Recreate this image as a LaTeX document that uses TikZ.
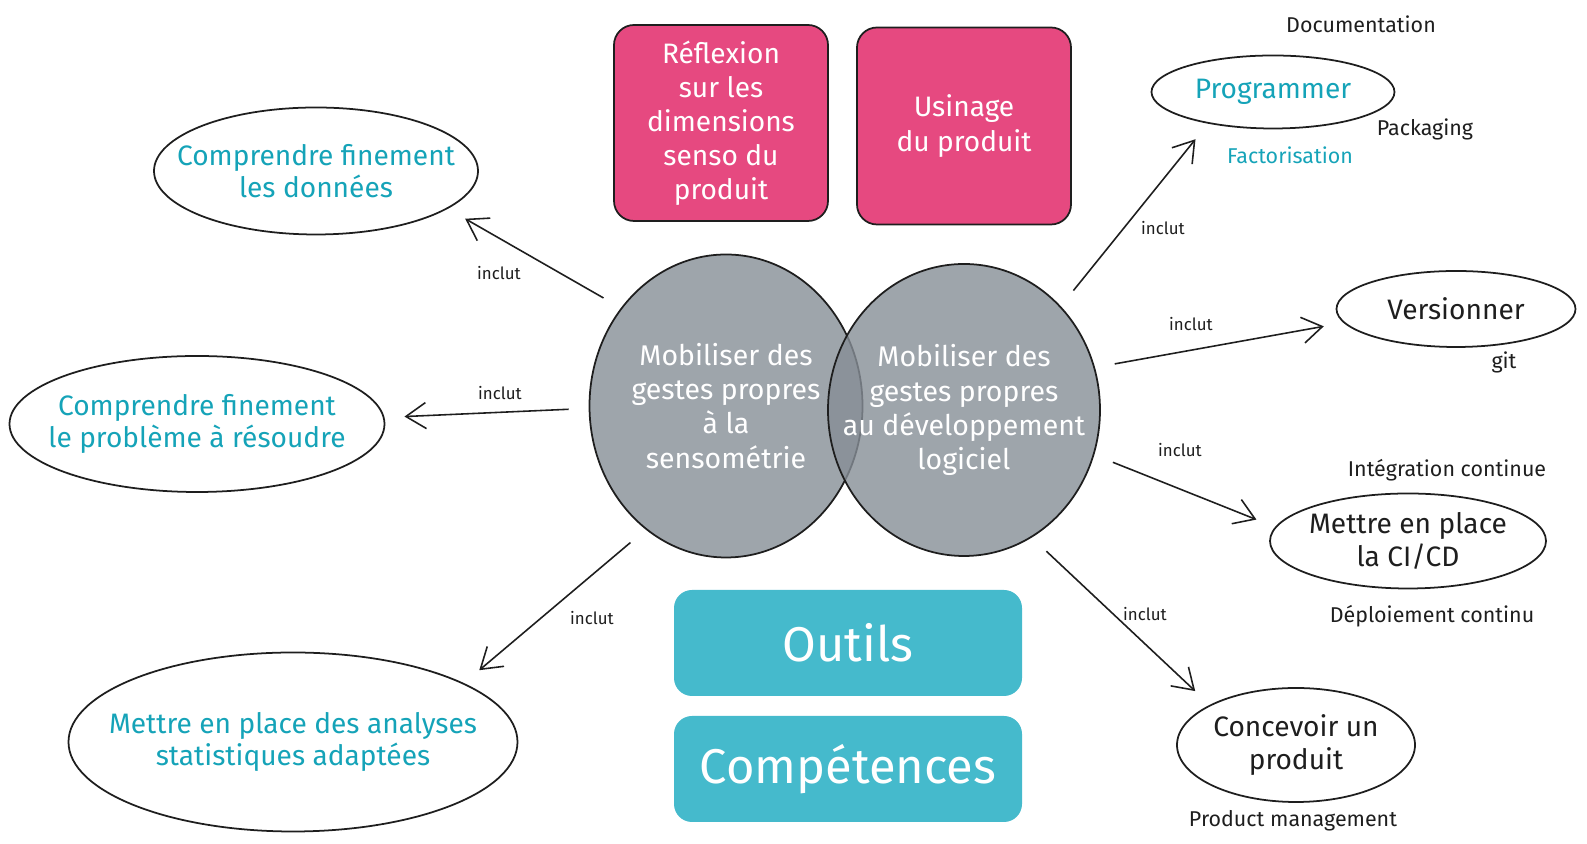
\documentclass[tikz,border=0pt]{standalone}
\usepackage{fontspec}
\setmainfont{Fira Sans}
\usetikzlibrary{shapes.geometric,arrows.meta,positioning}

\definecolor{rose}{RGB}{230,73,128}
\definecolor{turq}{RGB}{69,186,204}
\definecolor{turqtxt}{RGB}{21,163,184}
\definecolor{ardoise}{RGB}{134,142,150}
\definecolor{trait}{RGB}{30,30,30}

\tikzset{
  bub/.style={ellipse, draw=trait, line width=0.5pt, inner sep=-6mm, align=center,
    font=\fontsize{8}{9.2}\selectfont},
  sens/.style={ellipse, draw=trait, line width=0.5pt, fill=ardoise, fill opacity=0.8,
    text opacity=1, text=white, inner sep=-6mm, align=center,
    font=\fontsize{8.1}{9.7}\selectfont},
  pinkbox/.style={draw=trait, line width=0.5pt, fill=rose, rounded corners=2mm,
    text=white, align=center, font=\fontsize{8}{9.7}\selectfont},
  tealbox/.style={fill=turq, rounded corners=1.8mm, text=white,
    font=\fontsize{13.9}{16}\selectfont},
  note/.style={font=\fontsize{6.1}{7}\selectfont, text=trait},
  lbl/.style={font=\fontsize{4.8}{5.5}\selectfont, text=trait},
  inc/.style={draw=trait, line width=0.45pt, -{Straight Barb[length=2mm,width=2.6mm]},
    shorten <=2mm, shorten >=2mm}
}

\begin{document}
\begin{tikzpicture}
      %\draw[help lines] (0,0) grid (16,-9);
      \useasboundingbox (0,0) rectangle (15.87,-8.44);

      % cadres du haut
      \node[pinkbox, minimum width=2.14cm, minimum height=1.96cm] (refl) at (7.21,-1.23)
        {Réflexion\\sur les\\dimensions\\senso du\\produit};
      \node[pinkbox, minimum width=2.14cm, minimum height=1.97cm] (usi) at (9.64,-1.26)
        {Usinage\\du produit};

      % les deux cercles
      \node[sens, minimum width=2.73cm, minimum height=3.03cm] (sA) at (7.26,-4.06)
        {Mobiliser des\\gestes propres\\à la\\sensométrie};
      \node[sens, minimum width=2.72cm, minimum height=2.92cm] (sB) at (9.64,-4.10)
        {Mobiliser des\\gestes propres\\au développement\\logiciel};

      % legende
      \node[tealbox, minimum width=3.48cm, minimum height=1.06cm] (outils) at (8.48,-6.43) {Outils};
      \node[tealbox, minimum width=3.48cm, minimum height=1.06cm] (comp) at (8.48,-7.69) {Compétences};

      % cote senso
      \node[bub, text=turqtxt, minimum width=3.24cm, minimum height=1.27cm] (dat) at (3.16,-1.71)
        {Comprendre finement\\les données};
      \node[bub, text=turqtxt, minimum width=3.75cm, minimum height=1.36cm] (prob) at (1.97,-4.24)
        {Comprendre finement\\le problème à résoudre};
      \node[bub, text=turqtxt, minimum width=4.49cm, minimum height=1.79cm] (ana) at (2.93,-7.42)
        {Mettre en place des analyses\\statistiques adaptées};

      % cote dev
      \node[bub, text=turqtxt, minimum width=2.43cm, minimum height=0.73cm] (prog) at (12.73,-0.92) {Programmer};
      \node[bub, text=trait, minimum width=2.39cm, minimum height=0.76cm] (vers) at (14.56,-3.09) {Versionner};
      \node[bub, text=trait, minimum width=2.76cm, minimum height=0.95cm] (cicd) at (14.08,-5.41)
        {Mettre en place\\la CI/CD};
      \node[bub, text=trait, minimum width=2.38cm, minimum height=1.14cm] (conc) at (12.96,-7.45)
        {Concevoir un\\produit};

      \node[note] (doc) at (13.61,-0.24) {Documentation};
      \node[note] (pack) at (14.25,-1.29) {Packaging};
      \node[note, text=turqtxt] (fact) at (12.90,-1.55) {Factorisation};
      \node[note] (git) at (15.04,-3.62) {git};
      \node[note] (ci) at (14.47,-4.70) {Intégration continue};
      \node[note] (cd) at (14.32,-6.16) {Déploiement continu};
      \node[note] (pm) at (12.93,-8.21) {Product management};

      % fleches
      \draw[inc] (sA.137) -- (dat.-16);
      \draw[inc] (sA.181) -- (prob.2);
      \draw[inc] (sA.237) -- (ana.19);
      \draw[inc] (sB.47) -- (prog.206);
      \draw[inc] (sB.18) -- (vers.187);
      \draw[inc] (sB.-19) -- (cicd.174);
      \draw[inc] (sB.-62) -- (conc.155);

      \node[lbl] (i1) at (4.99,-2.73) {inclut};
      \node[lbl] (i2) at (5.00,-3.93) {inclut};
      \node[lbl] (i3) at (5.92,-6.18) {inclut};
      \node[lbl] (i4) at (11.63,-2.28) {inclut};
      \node[lbl] (i5) at (11.91,-3.24) {inclut};
      \node[lbl] (i6) at (11.80,-4.50) {inclut};
      \node[lbl] (i7) at (11.45,-6.14) {inclut};
    \end{tikzpicture}
\end{document}
